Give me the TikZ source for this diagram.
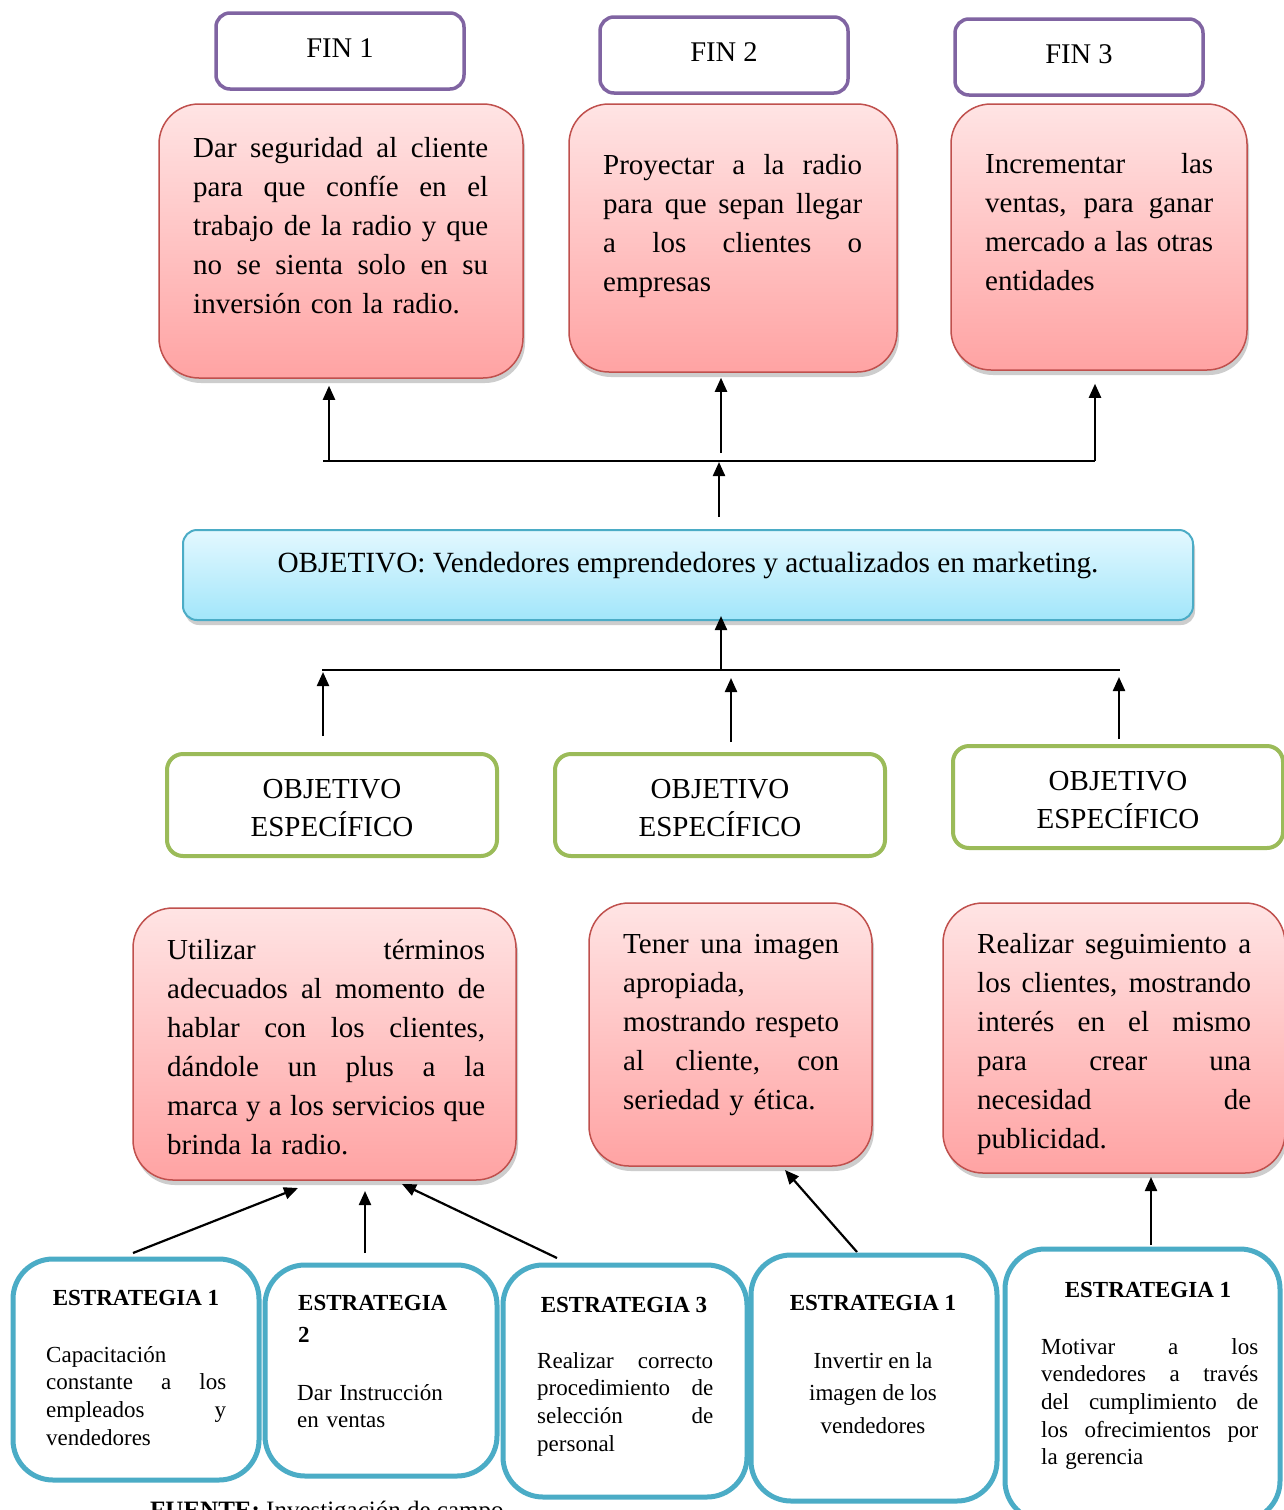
\documentclass[tikz,border=0pt]{standalone}
\usepackage{fontspec}
\setmainfont{Liberation Serif}
\usetikzlibrary{arrows.meta,shadows}

% one justified line of a paragraph (word spaces stretched to the full width)
\newcommand\jl[1]{\makebox[\linewidth][s]{\spaceskip=0pt\xspaceskip=0pt #1}}

\definecolor{finpurple}{HTML}{8064A2}
\definecolor{redline}{HTML}{C0504D}
\definecolor{redtop}{HTML}{FFE4E4}
\definecolor{redbot}{HTML}{FFA3A3}
\definecolor{objline}{HTML}{4BACC6}
\definecolor{objtop}{HTML}{E3F8FF}
\definecolor{objbot}{HTML}{A2E6FA}
\definecolor{greenline}{HTML}{9BBB59}
\definecolor{stratline}{HTML}{4BACC6}

\begin{document}
\begin{tikzpicture}[x=1pt,y=-1pt,
  softshadow/.style={drop shadow={shadow xshift=2pt,shadow yshift=-5pt,opacity=.28,fill=black!70}},
  finbox/.style={draw=finpurple,line width=3.5pt,rounded corners=14pt,fill=white,
                 minimum width=248pt,minimum height=76pt,inner sep=0},
  goalbox/.style={draw=redline,line width=1.5pt,rounded corners=40pt,
                  top color=redtop,bottom color=redbot,softshadow,inner sep=0},
  objbox/.style={draw=objline,line width=2pt,rounded corners=14pt,
                 top color=objtop,bottom color=objbot,softshadow,inner sep=0},
  specbox/.style={draw=greenline,line width=4pt,rounded corners=16pt,fill=white,
                  minimum width=330pt,minimum height=102pt,inner sep=0},
  stratbox/.style={draw=stratline,line width=5pt,rounded corners=40pt,fill=white,inner sep=0},
  headtext/.style={font=\fontsize{28.5}{38}\selectfont,inner sep=0,anchor=base,align=center},
  bodytext/.style={font=\fontsize{29}{39}\selectfont,inner sep=0,anchor=base west},
  strattitle/.style={font=\fontsize{23}{32}\selectfont\bfseries,inner sep=0,anchor=base},
  strattext/.style={font=\fontsize{23}{27.7}\selectfont,inner sep=0,anchor=base west},
  conn/.style={line width=2.2pt},
  arr/.style={conn,-{Triangle[length=14pt,width=12pt]}}
]
\useasboundingbox (0,0) rectangle (1284,1510);
\fill[white] (0,0) rectangle (1284,1510);

% ---------- ends ----------
\node[finbox] (fin1) at (340,51) {};
\node[headtext] (fin1t) at (340,57) {FIN 1};
\node[finbox] (fin2) at (724,55) {};
\node[headtext] (fin2t) at (724,61) {FIN 2};
\node[finbox] (fin3) at (1079,57) {};
\node[headtext] (fin3t) at (1079,63) {FIN 3};

\node[goalbox,minimum width=364pt,minimum height=274pt] (r1) at (341,241) {};
\node[bodytext,text width=295pt] (r1t) at (193,157) {%
\jl{Dar seguridad al cliente}\\
\jl{para que confíe en el}\\
\jl{trabajo de la radio y que}\\
\jl{no se sienta solo en su}\\
inversión con la radio.};

\node[goalbox,minimum width=328pt,minimum height=268pt] (r2) at (733,238) {};
\node[bodytext,text width=259pt] (r2t) at (603,174) {%
\jl{Proyectar a la radio}\\
\jl{para que sepan llegar}\\
\jl{a los clientes o}\\
empresas};

\node[goalbox,minimum width=296pt,minimum height=266pt] (r3) at (1099,237) {};
\node[bodytext,text width=228pt] (r3t) at (985,173) {%
\jl{Incrementar las}\\
\jl{ventas, para ganar}\\
\jl{mercado a las otras}\\
entidades};

% ---------- links from the objective to the ends ----------
\coordinate (jl) at (323,461);
\coordinate (jr) at (1095,461);
\coordinate (ja) at (329,461);
\coordinate (jb) at (721,453);
\coordinate (jc) at (1095,461);
\coordinate (jm) at (719,462);
\draw[conn] (jl) -- (jr);
\draw[arr,shorten >=7pt] (ja) -- (ja |- r1.south);
\draw[arr,shorten >=5pt] (jb) -- (jb |- r2.south);
\draw[arr,shorten >=13pt] (jc) -- (jc |- r3.south);

% ---------- general objective ----------
\node[objbox,minimum width=1010pt,minimum height=90pt] (obj) at (688,575) {};
\node[headtext,font=\fontsize{29.3}{38}\selectfont] (objt) at (688,572)
  {OBJETIVO: Vendedores emprendedores y actualizados en marketing.};
\draw[arr,shorten <=12pt] (jm |- obj.north) -- (jm);

% ---------- links from the specific objectives ----------
\coordinate (kl) at (322,670);
\coordinate (kr) at (1120,670);
\coordinate (km) at (721,670);
\coordinate (ka) at (323,672);
\coordinate (kb) at (731,678);
\coordinate (kc) at (1119,677);
\draw[conn] (kl) -- (kr);
\draw[arr,shorten >=-5pt] (km) -- (km |- obj.south);

% ---------- specific objectives (base anchor = last line) ----------
\node[specbox] (g1) at (332,805) {};
\node[headtext,font=\fontsize{29}{38}\selectfont] (g1t) at (332,836) {OBJETIVO\\ESPECÍFICO};
\node[specbox] (g2) at (720,805) {};
\node[headtext,font=\fontsize{29}{38}\selectfont] (g2t) at (720,836) {OBJETIVO\\ESPECÍFICO};
\node[specbox] (g3) at (1118,797) {};
\node[headtext,font=\fontsize{29}{38}\selectfont] (g3t) at (1118,828) {OBJETIVO\\ESPECÍFICO};

\draw[arr,shorten <=16pt] (ka |- g1.north) -- (ka);
\draw[arr,shorten <=10pt] (kb |- g2.north) -- (kb);
\draw[arr,shorten <=5pt] (kc |- g3.north) -- (kc);

\node[goalbox,minimum width=383pt,minimum height=272pt] (r4) at (324.5,1044) {};
\node[bodytext,text width=318pt] (r4t) at (167,959) {%
\jl{Utilizar términos}\\
\jl{adecuados al momento de}\\
\jl{hablar con los clientes,}\\
\jl{dándole un plus a la}\\
\jl{marca y a los servicios que}\\
brinda la radio.};

\node[goalbox,minimum width=283pt,minimum height=263pt] (r5) at (730.5,1034.5) {};
\node[bodytext,text width=216pt] (r5t) at (623,953) {%
\jl{Tener una imagen}\\
apropiada,\\
\jl{mostrando respeto}\\
\jl{al cliente, con}\\
seriedad y ética.};

\node[goalbox,minimum width=342pt,minimum height=270pt] (r6) at (1114,1038) {};
\node[bodytext,text width=274pt] (r6t) at (977,953) {%
\jl{Realizar seguimiento a}\\
\jl{los clientes, mostrando}\\
\jl{interés en el mismo}\\
\jl{para crear una}\\
\jl{necesidad de}\\
publicidad.};

% ---------- strategies ----------
\node[stratbox,minimum width=246pt,minimum height=221pt] (s1) at (136,1369.5) {};
\node[strattitle] (s1h) at (136,1305) {ESTRATEGIA 1};
\node[strattext,text width=180pt] (s1t) at (46,1362) {%
Capacitación\\
\jl{constante a los}\\
\jl{empleados y}\\
vendedores};

\node[stratbox,minimum width=232pt,minimum height=211pt] (s2) at (381,1370.5) {};
\node[strattitle,anchor=base west,align=left] (s2h) at (298,1342) {ESTRATEGIA\\2};
\node[strattext,text width=180pt] (s2t) at (297,1400) {%
Dar Instrucción\\
en ventas};

\node[stratbox,minimum width=244pt,minimum height=232pt] (s3) at (625,1381) {};
\node[strattitle] (s3h) at (624,1312) {ESTRATEGIA 3};
\node[strattext,text width=176pt] (s3t) at (537,1368) {%
\jl{Realizar correcto}\\
\jl{procedimiento de}\\
\jl{selección de}\\
personal};

\node[stratbox,minimum width=246pt,minimum height=246pt] (s4) at (874,1378) {};
\node[strattitle] (s4h) at (873,1310) {ESTRATEGIA 1};
\node[strattext,anchor=base,align=center,font=\fontsize{23}{32.5}\selectfont] (s4t) at (873,1433) {%
Invertir en la\\
imagen de los\\
vendedores};

\node[stratbox,minimum width=275pt,minimum height=272pt] (s5) at (1142.5,1385) {};
\node[strattitle] (s5h) at (1148,1297) {ESTRATEGIA 1};
\node[strattext,text width=217pt] (s5t) at (1041,1354) {%
\jl{Motivar a los}\\
\jl{vendedores a través}\\
\jl{del cumplimiento de}\\
\jl{los ofrecimientos por}\\
la gerencia};

% ---------- links from the strategies ----------
\coordinate (p1) at (133,1253);
\coordinate (q1) at (298,1188);
\coordinate (p2) at (365,1253);
\coordinate (q2) at (365,1191);
\coordinate (p3) at (557,1258);
\coordinate (q3) at (402,1184);
\coordinate (p4) at (857,1252);
\coordinate (q4) at (785,1170);
\coordinate (p5) at (1151,1245);
\coordinate (q5) at (1151,1177);
\draw[arr] (p1) -- (q1);
\draw[arr] (p2) -- (q2);
\draw[arr] (p3) -- (q3);
\draw[arr] (p4) -- (q4);
\draw[arr] (p5) -- (q5);

% ---------- source line ----------
\node[inner sep=0,anchor=base west,font=\fontsize{25}{30}\selectfont] (src) at (150,1518)
  {\textbf{FUENTE:} Investigación de campo};
\end{tikzpicture}
\end{document}
